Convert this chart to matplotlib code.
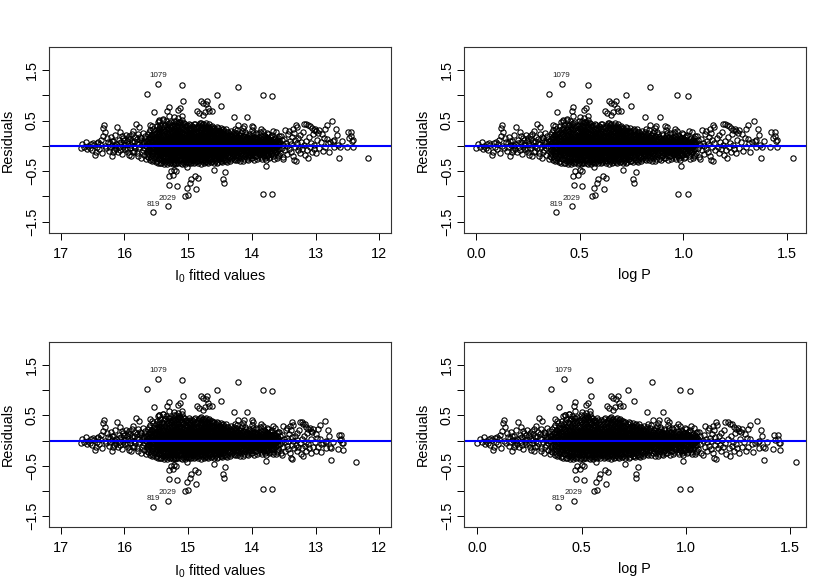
import numpy as np
import matplotlib
matplotlib.use("Agg")
import matplotlib.pyplot as plt

plt.rcParams['font.family'] = ['Liberation Sans', 'DejaVu Sans']

# residuals, as (log P, residual)
short_pts = [
    (0.00, -0.04), (0.01, 0.04), (0.02, -0.02), (0.03, 0.07), (0.035, -0.06), (0.04, 0.00),
    (0.05, -0.05), (0.055, 0.03), (0.06, -0.09), (0.065, 0.06), (0.07, 0.01), (0.075, -0.18),
    (0.08, -0.12), (0.085, 0.05), (0.09, -0.02), (0.095, 0.08), (0.10, -0.07), (0.105, 0.03),
    (0.11, 0.12), (0.115, -0.15), (0.12, 0.20), (0.122, 0.35), (0.125, 0.41), (0.128, 0.00),
    (0.13, 0.27), (0.135, -0.05), (0.14, 0.15), (0.145, 0.07), (0.15, -0.10), (0.155, 0.05),
    (0.16, 0.18), (0.165, -0.20), (0.17, 0.02), (0.175, 0.10), (0.18, -0.08), (0.185, 0.21),
    (0.19, 0.04), (0.195, 0.37), (0.20, -0.12), (0.203, 0.12), (0.207, -0.02), (0.21, 0.28),
    (0.215, 0.07), (0.22, -0.17), (0.225, 0.16), (0.23, 0.01), (0.235, -0.07), (0.24, 0.22),
    (0.245, 0.10), (0.25, -0.13), (0.255, 0.04), (0.26, 0.19), (0.262, -0.04), (0.265, 0.13),
    (0.27, -0.21), (0.275, 0.08), (0.28, 0.30), (0.283, 0.00), (0.287, -0.10), (0.29, 0.17),
    (0.295, 0.44), (0.30, 0.05), (0.303, -0.15), (0.307, 0.23), (0.31, 0.38), (0.313, -0.03),
    (0.317, 0.11), (0.32, -0.24), (0.323, 0.15), (0.327, 0.02), (0.33, -0.08), (0.333, 0.26),
    (0.337, 0.07), (0.34, -0.18), (0.343, 0.19), (0.347, -0.01), (0.35, 0.10), (0.35, -0.27),
    (0.155, -0.02), (0.165, 0.09), (0.175, -0.13), (0.185, 0.00), (0.19, -0.06),
    (0.205, 0.05), (0.212, -0.09), (0.218, 0.20), (0.228, -0.03), (0.232, 0.12), (0.238, 0.04),
    (0.248, -0.06), (0.252, 0.15), (0.258, -0.18), (0.268, 0.02), (0.272, 0.24), (0.278, -0.12),
    (0.285, 0.09), (0.292, -0.05), (0.298, 0.13), (0.305, -0.20), (0.31, 0.03), (0.318, 0.18),
    (0.325, -0.12), (0.33, 0.08), (0.338, -0.04), (0.345, 0.14),
]

# dense part: residuals per log P column
core_cols = [
    (0.36, [-0.22, -0.08, 0.03, 0.12, 0.24, -0.15]),
    (0.37, [-0.28, -0.02, 0.07, 0.18, 0.42, -0.11, 0.31]),
    (0.38, [-0.19, -0.05, 0.10, 0.01, 0.39, -0.30, 0.21]),
    (0.39, [-0.13, 0.04, 0.15, -0.24, 0.27, -0.02]),
    (0.40, [-0.33, -0.09, 0.06, 0.17, -0.16, 0.00, 0.32, 0.11]),
    (0.41, [-0.21, -0.06, 0.02, 0.09, 0.19, -0.12, 0.28, -0.34, 0.48]),
    (0.42, [-0.27, -0.14, -0.03, 0.05, 0.13, 0.23, -0.08, 0.36, 0.51]),
    (0.43, [-0.18, -0.10, 0.00, 0.08, 0.16, -0.25, 0.30, 0.04, -0.35]),
    (0.44, [-0.30, -0.13, -0.05, 0.03, 0.11, 0.21, -0.20, 0.34, 0.53, 0.07]),
    (0.45, [-0.24, -0.15, -0.07, 0.01, 0.06, 0.14, 0.22, -0.32, 0.29, 0.42, -0.02, 0.10]),
    (0.46, [-0.36, -0.19, -0.11, -0.04, 0.02, 0.09, 0.17, 0.26, -0.26, 0.38, 0.05, -0.08, 0.13]),
    (0.47, [-0.29, -0.17, -0.09, -0.01, 0.04, 0.12, 0.20, 0.31, -0.13, 0.45, 0.58, 0.08, -0.05]),
    (0.48, [-0.33, -0.22, -0.12, -0.06, 0.00, 0.07, 0.15, 0.24, 0.35, -0.16, 0.10, 0.47, 0.03, -0.27]),
    (0.49, [-0.25, -0.18, -0.10, -0.03, 0.05, 0.11, 0.19, 0.28, -0.36, 0.40, 0.02, 0.14, -0.07]),
    (0.50, [-0.31, -0.20, -0.14, -0.06, 0.01, 0.08, 0.13, 0.22, 0.33, -0.24, 0.44, 0.04, -0.09, 0.17]),
    (0.51, [-0.27, -0.16, -0.08, -0.02, 0.03, 0.10, 0.18, 0.26, 0.37, -0.12, 0.50, 0.06, -0.35]),
    (0.52, [-0.34, -0.23, -0.13, -0.05, 0.02, 0.09, 0.16, 0.25, 0.32, -0.18, 0.42, -0.01, 0.12, 0.55]),
    (0.53, [-0.29, -0.19, -0.11, -0.04, 0.04, 0.07, 0.14, 0.21, 0.30, -0.26, 0.47, 0.00, -0.08, 0.11]),
    (0.54, [-0.37, -0.21, -0.15, -0.07, -0.01, 0.05, 0.12, 0.19, 0.28, 0.39, -0.11, 0.08, 0.02, 0.52]),
    (0.55, [-0.30, -0.17, -0.10, -0.03, 0.03, 0.10, 0.16, 0.24, 0.34, -0.22, 0.45, 0.06, -0.13]),
    (0.56, [-0.26, -0.20, -0.12, -0.05, 0.01, 0.08, 0.15, 0.22, 0.31, -0.33, 0.40, -0.08, 0.04, 0.13]),
    (0.57, [-0.32, -0.18, -0.09, -0.02, 0.05, 0.11, 0.18, 0.27, 0.36, -0.14, 0.02, -0.24, 0.09]),
    (0.58, [-0.28, -0.22, -0.14, -0.06, 0.00, 0.07, 0.13, 0.20, 0.29, -0.10, 0.41, 0.04, 0.16]),
    (0.59, [-0.35, -0.16, -0.11, -0.04, 0.03, 0.09, 0.15, 0.23, 0.32, -0.25, 0.01, -0.07, 0.12]),
    (0.60, [-0.29, -0.19, -0.08, -0.01, 0.06, 0.12, 0.19, 0.26, 0.38, -0.13, 0.03, 0.10, -0.22]),
    (0.61, [-0.33, -0.24, -0.12, -0.05, 0.02, 0.08, 0.14, 0.21, 0.30, -0.17, 0.44, -0.02, 0.05]),
    (0.62, [-0.26, -0.17, -0.10, -0.03, 0.04, 0.11, 0.17, 0.25, 0.35, -0.21, 0.00, 0.07, -0.31]),
    (0.63, [-0.30, -0.20, -0.13, -0.06, 0.01, 0.06, 0.13, 0.22, 0.28, 0.42, -0.09, 0.03, 0.16]),
    (0.64, [-0.36, -0.23, -0.15, -0.07, -0.01, 0.05, 0.10, 0.18, 0.27, 0.37, -0.11, 0.02, 0.46]),
    (0.65, [-0.28, -0.18, -0.09, -0.03, 0.03, 0.09, 0.15, 0.24, 0.33, -0.14, 0.43, 0.06, -0.22]),
    (0.66, [-0.32, -0.21, -0.12, -0.05, 0.00, 0.07, 0.12, 0.20, 0.29, -0.16, 0.38, 0.04, 0.10]),
    (0.67, [-0.25, -0.16, -0.10, -0.02, 0.05, 0.11, 0.17, 0.26, 0.35, -0.30, 0.01, -0.07, 0.45]),
    (0.68, [-0.34, -0.19, -0.13, -0.06, 0.02, 0.08, 0.14, 0.22, 0.31, -0.24, 0.40, 0.05, -0.01]),
    (0.69, [-0.27, -0.22, -0.11, -0.04, 0.03, 0.10, 0.16, 0.25, 0.34, -0.15, 0.00, 0.07]),
    (0.70, [-0.31, -0.17, -0.08, -0.01, 0.04, 0.09, 0.15, 0.21, 0.30, -0.12, 0.39, -0.05, 0.02]),
    (0.71, [-0.24, -0.20, -0.12, -0.05, 0.01, 0.06, 0.13, 0.19, 0.27, -0.35, 0.36, 0.03, -0.09]),
    (0.72, [-0.29, -0.15, -0.09, -0.03, 0.02, 0.08, 0.14, 0.22, 0.32, -0.19, 0.05, 0.11]),
    (0.73, [-0.33, -0.21, -0.11, -0.06, 0.00, 0.05, 0.12, 0.18, 0.26, -0.14, 0.35, -0.02]),
    (0.74, [-0.26, -0.18, -0.08, -0.02, 0.03, 0.09, 0.16, 0.24, -0.12, 0.30, 0.06, -0.05]),
    (0.75, [-0.30, -0.22, -0.13, -0.04, 0.01, 0.07, 0.11, 0.20, 0.28, -0.09, 0.04, 0.14]),
    (0.76, [-0.25, -0.16, -0.07, -0.01, 0.04, 0.10, 0.17, 0.25, -0.11, 0.33, 0.02]),
    (0.77, [-0.28, -0.19, -0.10, -0.03, 0.02, 0.08, 0.13, 0.21, -0.06, 0.05]),
    (0.78, [-0.32, -0.14, -0.08, 0.00, 0.06, 0.12, 0.19, 0.27, -0.04, 0.03]),
    (0.79, [-0.23, -0.17, -0.09, -0.02, 0.03, 0.09, 0.15, 0.22, 0.07]),
    (0.80, [-0.27, -0.12, -0.06, 0.01, 0.05, 0.11, 0.18, 0.30, -0.02]),
    (0.81, [-0.21, -0.15, -0.04, 0.02, 0.08, 0.14, 0.24, -0.08]),
    (0.82, [-0.29, -0.10, -0.03, 0.04, 0.10, 0.20, 0.33]),
    (0.83, [-0.18, -0.07, 0.00, 0.06, 0.13, 0.26, -0.12]),
    (0.84, [-0.24, -0.13, -0.05, 0.03, 0.09, 0.17, 0.41]),
    (0.85, [-0.31, -0.09, -0.02, 0.05, 0.12, 0.22, -0.16]),
    (0.86, [-0.20, -0.06, 0.01, 0.07, 0.15, 0.29]),
    (0.87, [-0.26, -0.14, -0.04, 0.02, 0.10, 0.19, 0.40]),
    (0.88, [-0.17, -0.08, 0.00, 0.06, 0.13, 0.24]),
    (0.89, [-0.23, -0.11, -0.03, 0.04, 0.09, 0.16, -0.28]),
    (0.90, [-0.19, -0.07, 0.01, 0.05, 0.12, 0.21, -0.13]),
    (0.91, [-0.25, -0.10, -0.04, 0.02, 0.08, 0.15, 0.40]),
    (0.92, [-0.15, -0.06, 0.00, 0.06, 0.11, 0.26, 0.37]),
    (0.93, [-0.21, -0.12, -0.02, 0.03, 0.09, 0.18]),
    (0.94, [-0.27, -0.08, -0.01, 0.05, 0.14, 0.23]),
    (0.95, [-0.16, -0.05, 0.02, 0.07, 0.12, -0.10]),
    (0.96, [-0.22, -0.11, -0.03, 0.04, 0.10, 0.20, 0.33]),
    (0.97, [-0.18, -0.07, 0.00, 0.06, 0.16, 0.30, -0.13]),
    (0.98, [-0.24, -0.09, -0.02, 0.03, 0.11, 0.19]),
    (0.99, [-0.14, -0.04, 0.01, 0.08, 0.15, -0.20]),
    (1.00, [-0.19, -0.06, 0.02, 0.05, 0.12, 0.24]),
    (1.01, [-0.23, -0.10, -0.01, 0.04, 0.09, 0.17]),
    (1.02, [-0.15, -0.05, 0.03, 0.07, 0.22]),
    (1.03, [-0.26, -0.08, 0.00, 0.06, 0.13]),
    (1.04, [-0.12, -0.03, 0.04, 0.10, 0.27]),
    (1.05, [-0.21, -0.07, 0.01, 0.08, 0.16]),
]

# columns in between the ones above, same dense part
core_cols_mid = [
    (0.355, [-0.12, 0.00, 0.09, -0.20]),
    (0.365, [-0.06, 0.05, 0.16, -0.17, 0.28]),
    (0.375, [-0.25, -0.10, 0.02, 0.13, 0.22]),
    (0.385, [-0.15, -0.03, 0.08, 0.18, -0.28, 0.34]),
    (0.395, [-0.21, -0.07, 0.03, 0.12, 0.24]),
    (0.405, [-0.31, -0.19, -0.07, 0.04, 0.14, 0.25, -0.13, 0.01, 0.39]),
    (0.415, [-0.26, -0.11, 0.00, 0.11, 0.23, -0.17, 0.06, 0.33]),
    (0.425, [-0.34, -0.21, -0.06, 0.03, 0.10, 0.19, 0.28, -0.12, 0.42]),
    (0.435, [-0.28, -0.16, -0.07, 0.02, 0.12, 0.24, -0.02, 0.37, 0.06]),
    (0.445, [-0.36, -0.24, -0.09, 0.00, 0.09, 0.17, 0.27, -0.15, 0.40, 0.04]),
    (0.455, [-0.30, -0.20, -0.11, -0.05, 0.04, 0.12, 0.19, 0.33, -0.15, 0.00, 0.49, 0.08]),
    (0.465, [-0.33, -0.23, -0.14, -0.06, 0.00, 0.07, 0.15, 0.23, 0.34, -0.10, 0.03, 0.44]),
    (0.475, [-0.35, -0.24, -0.15, -0.07, 0.02, 0.09, 0.17, 0.27, 0.39, -0.11, 0.05, -0.03]),
    (0.485, [-0.29, -0.19, -0.14, -0.04, 0.03, 0.09, 0.18, 0.29, 0.41, -0.09, 0.12, -0.01]),
    (0.495, [-0.34, -0.22, -0.15, -0.08, 0.00, 0.07, 0.16, 0.24, 0.36, -0.12, 0.03, 0.50]),
    (0.505, [-0.36, -0.26, -0.17, -0.11, -0.04, 0.02, 0.11, 0.19, 0.29, 0.40, -0.07, 0.06]),
    (0.515, [-0.31, -0.21, -0.13, -0.05, 0.01, 0.07, 0.14, 0.22, 0.32, 0.45, -0.09, 0.04]),
    (0.525, [-0.29, -0.18, -0.08, -0.02, 0.06, 0.14, 0.20, 0.28, 0.38, -0.13, 0.01, 0.48]),
    (0.535, [-0.35, -0.24, -0.14, -0.06, 0.01, 0.09, 0.17, 0.25, 0.35, -0.10, 0.03, 0.43]),
    (0.545, [-0.32, -0.25, -0.18, -0.09, -0.03, 0.03, 0.10, 0.16, 0.23, 0.33, 0.46, 0.07]),
    (0.555, [-0.36, -0.27, -0.14, -0.07, 0.00, 0.05, 0.13, 0.20, 0.28, 0.39, -0.11, 0.09]),
    (0.565, [-0.29, -0.22, -0.15, -0.07, -0.01, 0.07, 0.13, 0.21, 0.29, 0.41, -0.04, 0.03]),
    (0.575, [-0.34, -0.26, -0.12, -0.05, 0.03, 0.08, 0.16, 0.24, 0.33, -0.17, 0.00, 0.44]),
    (0.585, [-0.31, -0.19, -0.08, -0.02, 0.05, 0.10, 0.18, 0.26, 0.36, -0.13, 0.02, -0.25]),
    (0.595, [-0.28, -0.20, -0.13, -0.06, 0.00, 0.06, 0.13, 0.21, 0.28, 0.40, -0.09, 0.04]),
    (0.605, [-0.35, -0.26, -0.15, -0.04, 0.03, 0.09, 0.16, 0.23, 0.33, -0.10, 0.00, 0.43]),
    (0.615, [-0.30, -0.20, -0.14, -0.07, -0.01, 0.06, 0.11, 0.18, 0.27, 0.37, -0.03, 0.09]),
    (0.625, [-0.34, -0.23, -0.13, -0.08, 0.00, 0.07, 0.14, 0.20, 0.30, 0.40, -0.04, 0.03]),
    (0.635, [-0.27, -0.17, -0.10, -0.02, 0.04, 0.09, 0.17, 0.25, 0.34, -0.14, 0.00, 0.45]),
    (0.645, [-0.31, -0.19, -0.12, -0.04, 0.01, 0.08, 0.13, 0.22, 0.31, 0.41, -0.08, 0.04]),
    (0.655, [-0.35, -0.25, -0.15, -0.07, -0.01, 0.05, 0.12, 0.19, 0.27, 0.36, -0.11, 0.02]),
    (0.665, [-0.29, -0.19, -0.08, -0.03, 0.03, 0.09, 0.16, 0.23, 0.32, 0.42, -0.13, 0.00]),
    (0.675, [-0.32, -0.21, -0.14, -0.05, 0.01, 0.07, 0.13, 0.20, 0.28, 0.37, -0.09, 0.04]),
    (0.685, [-0.28, -0.18, -0.09, -0.02, 0.04, 0.11, 0.18, 0.26, 0.35, -0.13, 0.00, 0.43]),
    (0.695, [-0.33, -0.25, -0.14, -0.06, 0.01, 0.06, 0.13, 0.20, 0.29, -0.09, 0.03, 0.38]),
    (0.705, [-0.27, -0.19, -0.11, -0.03, 0.02, 0.08, 0.12, 0.18, 0.25, 0.34, -0.07, 0.05]),
    (0.715, [-0.31, -0.16, -0.07, 0.00, 0.04, 0.10, 0.17, 0.23, 0.31, -0.12, -0.02, 0.07]),
    (0.725, [-0.34, -0.24, -0.12, -0.05, 0.00, 0.05, 0.11, 0.16, 0.25, 0.37, -0.08, 0.02]),
    (0.735, [-0.27, -0.17, -0.09, -0.03, 0.03, 0.08, 0.14, 0.21, 0.29, -0.12, 0.00, 0.06]),
    (0.745, [-0.30, -0.21, -0.13, -0.06, 0.00, 0.05, 0.12, 0.19, 0.27, 0.35, -0.03, 0.08]),
    (0.755, [-0.33, -0.19, -0.10, -0.04, 0.02, 0.07, 0.13, 0.22, 0.31, -0.14, -0.01, 0.05]),
    (0.765, [-0.28, -0.21, -0.12, -0.05, 0.01, 0.06, 0.14, 0.19, 0.29, -0.09, 0.03]),
    (0.775, [-0.30, -0.15, -0.07, -0.02, 0.04, 0.10, 0.16, 0.24, -0.11, 0.00, 0.33]),
    (0.785, [-0.26, -0.18, -0.11, -0.05, 0.01, 0.07, 0.12, 0.20, 0.28, -0.02, 0.04]),
    (0.795, [-0.31, -0.20, -0.09, -0.03, 0.02, 0.08, 0.14, 0.23, -0.13, 0.05]),
    (0.805, [-0.24, -0.13, -0.05, 0.00, 0.06, 0.12, 0.19, -0.09, 0.03]),
    (0.815, [-0.27, -0.17, -0.08, -0.02, 0.04, 0.10, 0.16, 0.27, 0.01]),
    (0.825, [-0.22, -0.13, -0.06, 0.01, 0.07, 0.12, 0.22, -0.03]),
    (0.835, [-0.29, -0.16, -0.09, -0.02, 0.04, 0.10, 0.17, 0.31]),
    (0.845, [-0.20, -0.11, -0.04, 0.01, 0.07, 0.14, 0.21, -0.07]),
    (0.855, [-0.25, -0.14, -0.06, 0.03, 0.08, 0.17, 0.25, -0.01]),
    (0.865, [-0.30, -0.18, -0.09, -0.02, 0.04, 0.11, 0.20, 0.35]),
    (0.875, [-0.21, -0.11, -0.05, 0.00, 0.07, 0.14, 0.27]),
    (0.885, [-0.27, -0.15, -0.07, 0.02, 0.09, 0.18, -0.02]),
    (0.895, [-0.20, -0.10, -0.05, 0.01, 0.06, 0.12, 0.24]),
    (0.905, [-0.24, -0.14, -0.06, 0.03, 0.09, 0.16, -0.01]),
    (0.915, [-0.18, -0.08, -0.02, 0.05, 0.11, 0.20, 0.31]),
    (0.925, [-0.29, -0.12, -0.04, 0.02, 0.08, 0.15, -0.08]),
    (0.935, [-0.20, -0.10, -0.05, 0.01, 0.06, 0.12, 0.25]),
    (0.945, [-0.23, -0.13, -0.06, 0.03, 0.10, 0.18, -0.01]),
    (0.955, [-0.17, -0.08, -0.02, 0.05, 0.09, 0.15, 0.28]),
    (0.965, [-0.26, -0.14, -0.05, 0.01, 0.07, 0.13, -0.09]),
    (0.975, [-0.20, -0.10, -0.03, 0.04, 0.09, 0.22]),
    (0.985, [-0.28, -0.15, -0.06, 0.00, 0.06, 0.13, 0.17]),
    (0.995, [-0.18, -0.09, -0.02, 0.03, 0.10, 0.26]),
    (1.005, [-0.24, -0.12, -0.04, 0.01, 0.07, 0.14]),
    (1.015, [-0.17, -0.08, 0.00, 0.05, 0.11, 0.19]),
    (1.025, [-0.21, -0.11, -0.03, 0.03, 0.09, 0.30]),
    (1.035, [-0.15, -0.06, 0.02, 0.07, 0.15]),
    (1.045, [-0.25, -0.10, -0.01, 0.05, 0.12]),
    (1.055, [-0.18, -0.07, 0.03, 0.08, 0.20]),
]

long_pts = [
    (1.06, -0.14), (1.06, 0.05), (1.065, 0.20), (1.07, -0.04), (1.07, 0.11), (1.075, -0.22),
    (1.08, 0.02), (1.08, -0.26), (1.085, 0.14), (1.09, -0.09), (1.09, 0.32), (1.095, 0.06),
    (1.10, -0.17), (1.10, 0.00), (1.105, 0.24), (1.11, -0.06), (1.11, 0.29), (1.115, 0.09),
    (1.12, -0.12), (1.12, 0.03), (1.125, 0.18), (1.13, -0.20), (1.13, 0.33), (1.135, 0.26),
    (1.135, -0.29), (1.14, -0.03), (1.14, 0.12), (1.145, -0.31), (1.145, 0.42), (1.15, 0.37),
    (1.15, 0.05), (1.155, -0.09), (1.16, 0.15), (1.165, -0.02), (1.17, 0.21), (1.17, -0.15),
    (1.175, 0.08), (1.18, -0.06), (1.185, 0.28), (1.19, 0.44), (1.19, 0.01), (1.195, -0.19),
    (1.20, 0.44), (1.20, 0.10), (1.205, -0.08), (1.21, 0.41), (1.21, -0.24), (1.215, 0.17),
    (1.22, 0.40), (1.22, -0.03), (1.225, 0.06), (1.23, 0.36), (1.23, -0.12), (1.235, 0.24),
    (1.24, 0.31), (1.24, 0.02), (1.245, -0.07), (1.25, 0.33), (1.255, 0.29), (1.255, -0.15),
    (1.26, 0.12), (1.265, 0.26), (1.27, 0.32), (1.27, -0.04), (1.28, 0.08), (1.285, 0.24),
    (1.29, -0.10), (1.295, 0.15), (1.30, 0.33), (1.30, -0.02), (1.31, 0.42), (1.31, 0.14),
    (1.315, 0.05), (1.32, -0.12), (1.33, 0.07), (1.34, 0.50), (1.345, 0.09), (1.35, 0.12),
    (1.35, -0.02), (1.36, 0.34), (1.365, 0.22), (1.37, 0.01), (1.375, -0.25), (1.38, -0.02),
    (1.39, 0.10), (1.42, -0.02), (1.425, 0.27), (1.43, 0.16), (1.44, 0.27), (1.44, 0.19),
    (1.445, 0.10), (1.45, 0.12), (1.45, -0.02), (1.53, -0.24),
]

outlier_pts = [
    (0.413, 1.23), (0.354, 1.02), (0.539, 1.21), (0.839, 1.17), (0.724, 1.00), (0.971, 1.00),
    (1.021, 0.99), (0.547, 0.88), (0.643, 0.88), (0.674, 0.89), (0.666, 0.83), (0.652, 0.85),
    (0.749, 0.78), (0.469, 0.77), (0.461, 0.69), (0.53, 0.74), (0.52, 0.70), (0.389, 0.66),
    (0.62, 0.69), (0.63, 0.64), (0.65, 0.60), (0.66, 0.67), (0.68, 0.74), (0.685, 0.69),
    (0.70, 0.68), (0.815, 0.56), (0.888, 0.56), (0.42, 0.50), (0.44, 0.52), (0.54, 0.58),
    (0.50, 0.57), (0.387, -1.31), (0.463, -1.19), (0.558, -1.00), (0.574, -0.98),
    (0.473, -0.77), (0.511, -0.79), (0.617, -0.86), (0.568, -0.83), (0.584, -0.74),
    (0.59, -0.66), (0.611, -0.59), (0.626, -0.63), (0.47, -0.59), (0.48, -0.50), (0.49, -0.57),
    (0.50, -0.48), (0.51, -0.50), (0.569, -0.42), (0.972, -0.96), (1.021, -0.96),
    (0.987, -0.40), (0.759, -0.66), (0.762, -0.74), (0.77, -0.52), (0.71, -0.47),
]

label_ids = ['1079', '819', '2029']
label_logp = [0.413, 0.387, 0.463]
label_res = [1.23, -1.31, -1.19]

# linear PL fit (top) and broken fit at log P = 1 (bottom)
fit_intercept = 16.69
fit_slope = -2.95
break_logp = 1.0
break_shift = 0.35

logp = [p[0] for p in short_pts]
res = [p[1] for p in short_pts]
for cols in (core_cols, core_cols_mid):
    for x, col in cols:
        logp += [x] * len(col)
        res += col
for pts in (long_pts, outlier_pts):
    logp += [p[0] for p in pts]
    res += [p[1] for p in pts]
logp = np.array(logp)
res = np.array(res)

fit_top = fit_intercept + fit_slope * logp
corr = break_shift * np.clip(logp - break_logp, 0, None)
res_bot = res - corr
fit_bot = fit_top + corr

lab_logp = np.array(label_logp)
lab_fit = fit_intercept + fit_slope * lab_logp


fig = plt.figure(figsize=(8.3, 5.88), dpi=100)

def panel(rect, x, y, xlim, xticks, xlabels, xlabel, lx, ly):
    ax = fig.add_axes(rect)
    ax.plot(x, y, 'o', mfc='none', mec='black', ms=3.8, mew=0.8, ls='none')
    ax.axhline(0, color='#0000ff', lw=1.5)
    for t, a, b in zip(label_ids, lx, ly):
        ax.annotate(t, (a, b), xytext=(0, 3), textcoords='offset points',
                    ha='center', va='bottom', fontsize=5.8, color='#222222')
    ax.set_xlim(*xlim)
    ax.set_ylim(-1.72, 1.95)
    ax.set_xticks(xticks)
    ax.set_xticklabels(xlabels)
    ax.set_yticks([-1.5, -1.0, -0.5, 0.0, 0.5, 1.0, 1.5])
    ax.set_yticklabels(['\u22121.5', '', '\u22120.5', '', '0.5', '', '1.5'])
    for lbl in ax.get_yticklabels():
        lbl.set_rotation(90)
        lbl.set_va('center')
    ax.tick_params(length=5, width=0.7, labelsize=10.4, pad=2)
    ax.tick_params(axis='x', pad=5)
    ax.set_xlabel(xlabel, fontsize=10.4, labelpad=5)
    ax.set_ylabel('Residuals', fontsize=10.4, labelpad=7)
    for s in ax.spines.values():
        s.set_linewidth(0.8)
        s.set_color('#333333')
    return ax

fit_lab = r'$\mathregular{I_0}$ fitted values'
fit_ticks = [17, 16, 15, 14, 13, 12]
p_ticks = [0.0, 0.5, 1.0, 1.5]
p_labels = ['0.0', '0.5', '1.0', '1.5']

panel([0.0587, 0.6043, 0.412, 0.3153], fit_top, res, (17.19, 11.82), fit_ticks,
      [str(t) for t in fit_ticks], fit_lab, lab_fit, label_res)
panel([0.5587, 0.6043, 0.412, 0.3153], logp, res, (-0.059, 1.59), p_ticks,
      p_labels, 'log P', lab_logp, label_res)
panel([0.0587, 0.1032, 0.412, 0.3146], fit_bot, res_bot, (17.19, 11.82), fit_ticks,
      [str(t) for t in fit_ticks], fit_lab, lab_fit, label_res)
panel([0.5587, 0.1032, 0.412, 0.3146], logp, res_bot, (-0.066, 1.575), p_ticks,
      p_labels, 'log P', lab_logp, label_res)

fig.savefig('out.png', dpi=100)
